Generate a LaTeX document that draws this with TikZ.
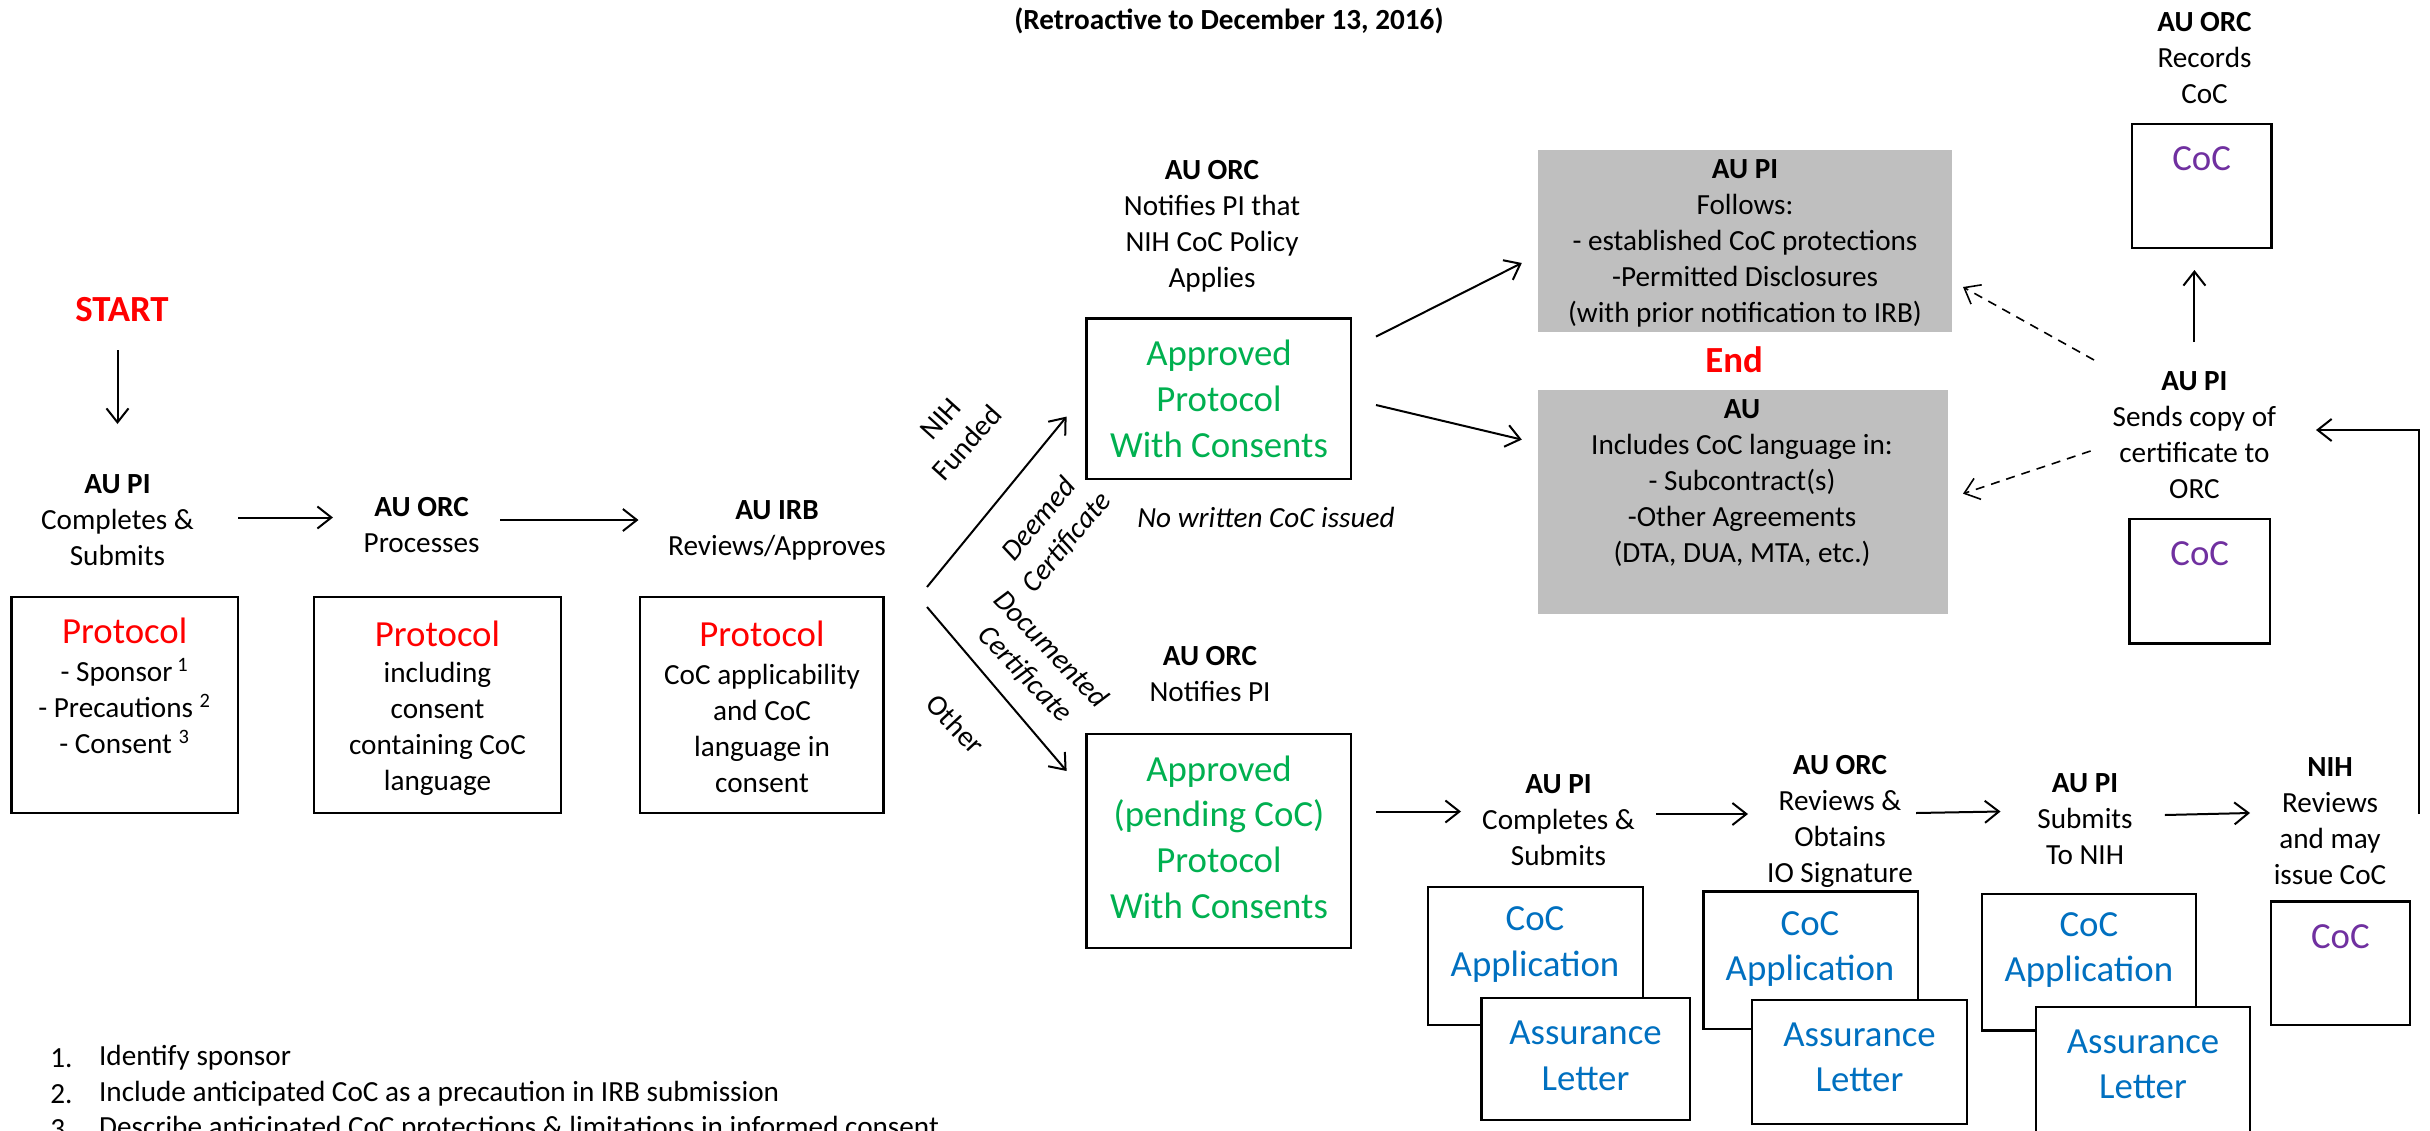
\documentclass[tikz,border=0pt]{standalone}
\usepackage{fontspec}
\setmainfont{Carlito}
\usetikzlibrary{arrows.meta,fit}
\definecolor{myred}{HTML}{FF0000}
\definecolor{mygreen}{HTML}{00B050}
\definecolor{myblue}{HTML}{0070C0}
\definecolor{mypurple}{HTML}{7030A0}
\definecolor{mygray}{HTML}{BFBFBF}
\tikzset{
  lbl/.style={align=center, inner sep=0pt, font=\fontsize{14.6}{18}\selectfont},
  big/.style={align=center, inner sep=0pt, font=\fontsize{18.4}{22.8}\selectfont},
  boxr/.style={draw, line width=1.15pt, fill=white, inner sep=0pt},
  grayr/.style={fill=mygray, inner sep=0pt},
  arr/.style={line width=1pt, -{Straight Barb[length=7pt,width=11pt]}},
  darr/.style={line width=0.8pt, dash pattern=on 4.5pt off 3.5pt, -{Straight Barb[length=7pt,width=11pt]}},
}
\begin{document}
\begin{tikzpicture}[x=0.5pt,y=-0.5pt]
\useasboundingbox[fill=white] (0,0) rectangle (2430,1130);

% title
\node[lbl, font=\fontsize{14.6}{18}\selectfont\bfseries] (title) at (1229,21) {(Retroactive to December 13, 2016)};

% left column
\node[big, font=\fontsize{18.4}{22.8}\selectfont\bfseries, text=myred] (start) at (122,310) {START};
\node[lbl] (pi1) at (117.5,520) {\textbf{AU PI}\\Completes \&\\Submits};
\coordinate (s0) at (117.5,350);
\coordinate (s1) at (117.5,424);
\draw[arr] (s0) -- (s1);

\node[boxr, fit={(11.5,597) (238,813)}] (b1) {};
\node[big, text=myred] (b1t) at (124.7,631) {Protocol};
\node[lbl] (b1b) at (124.7,706) {- Sponsor\,\textsuperscript{1}\\- Precautions \textsuperscript{2}\\- Consent \textsuperscript{3}};

\coordinate (a1s) at (238,517.5);
\coordinate (a1e) at (333,517.5);
\draw[arr] (a1s) -- (a1e);

\node[lbl] (orc1) at (421.6,525) {\textbf{AU ORC}\\Processes};
\node[boxr, fit={(314,597) (561,813)}] (b2) {};
\node[big, text=myred] (b2t) at (437.5,634) {Protocol};
\node[lbl] (b2b) at (437.5,728.7) {including\\consent\\containing CoC\\language};

\coordinate (a2s) at (500,520);
\coordinate (a2e) at (638.5,520);
\draw[arr] (a2s) -- (a2e);

\node[lbl] (irb) at (777,530.5) {\textbf{AU IRB}\\Reviews/Approves};
\node[boxr, fit={(640,597) (883.6,813)}] (b3) {};
\node[big, text=myred] (b3t) at (762,634) {Protocol};
\node[lbl] (b3b) at (762,728.7) {CoC applicability\\and CoC\\language in\\consent};

% branches
\coordinate (d1s) at (927,587);
\coordinate (d1e) at (1066.6,416.6);
\coordinate (d2s) at (927,607);
\coordinate (d2e) at (1066.6,771);
\draw[arr] (d1s) -- (d1e);
\draw[arr] (d2s) -- (d2e);
\node[lbl, rotate=48] (nihf) at (953.8,431) {NIH\\Funded};
\node[lbl, rotate=50, font=\fontsize{14.6}{18}\selectfont\itshape] (deem) at (1053,531) {Deemed\\Certificate};
\node[lbl, rotate=-46, font=\fontsize{14.6}{18}\selectfont\itshape] (docu) at (1037.8,662) {Documented\\Certificate};
\node[lbl, rotate=-47] (other) at (955.7,724.3) {Other};

% upper branch
\node[lbl] (orcA) at (1212,226) {\textbf{AU ORC}\\Notifies PI that\\NIH CoC Policy\\Applies};
\node[boxr, fit={(1086.5,318.5) (1351,479)}] (bA) {};
\node[big, text=mygreen] (bAt) at (1219,398.8) {Approved\\Protocol\\With Consents};
\node[lbl, font=\fontsize{14.6}{18}\selectfont\itshape] (nowr) at (1266,517.5) {No written CoC issued};

\coordinate (u1s) at (1376,336.6);
\coordinate (u1e) at (1521.8,263);
\coordinate (u2s) at (1376,405);
\coordinate (u2e) at (1521.8,439.6);
\draw[arr] (u1s) -- (u1e);
\draw[arr] (u2s) -- (u2e);

\node[grayr, fit={(1538,150) (1952,332)}] (g1) {};
\node[lbl] (g1t) at (1745,243) {\textbf{AU PI}\\Follows:\\- established CoC protections\\-Permitted Disclosures\\(with prior notification to IRB)};
\node[big, font=\fontsize{18.4}{22.8}\selectfont\bfseries, text=myred] (endt) at (1734,360) {End};
\node[grayr, fit={(1538,390) (1948,614)}] (g2) {};
\node[lbl] (g2t) at (1742,483) {\textbf{AU}\\Includes CoC language in:\\- Subcontract(s)\\-Other Agreements\\(DTA, DUA, MTA, etc.)};

% lower branch
\node[lbl] (orcB) at (1210,674) {\textbf{AU ORC}\\Notifies PI};
\node[boxr, fit={(1086.5,734) (1351,948)}] (bB) {};
\node[big, text=mygreen] (bBt) at (1219,837) {Approved\\(pending CoC)\\Protocol\\With Consents};

\coordinate (l1s) at (1376,811.5);
\coordinate (l1e) at (1461,811.5);
\draw[arr] (l1s) -- (l1e);

\node[lbl] (piB) at (1558.5,820) {\textbf{AU PI}\\Completes \&\\Submits};
\node[boxr, fit={(1428,887) (1643,1025)}] (app1) {};
\node[big, text=myblue] (app1t) at (1535,944.5) {CoC\\Application};
\node[boxr, fit={(1481.4,998) (1689.7,1120)}] (ass1) {};
\node[big, text=myblue] (ass1t) at (1585.5,1056) {Assurance\\Letter};

\coordinate (l2s) at (1656,814);
\coordinate (l2e) at (1748,814);
\draw[arr] (l2s) -- (l2e);

\node[lbl] (orcC) at (1840,821) {\textbf{AU ORC}\\Reviews \&\\Obtains\\IO Signature};
\node[boxr, fit={(1703.4,891.5) (1918,1029)}] (app2) {};
\node[big, text=myblue] (app2t) at (1810,949) {CoC\\Application};
\node[boxr, fit={(1752,1000) (1967,1124)}] (ass2) {};
\node[big, text=myblue] (ass2t) at (1859.5,1057.5) {Assurance\\Letter};

\coordinate (l3s) at (1916,813);
\coordinate (l3e) at (2000.5,811.5);
\draw[arr] (l3s) -- (l3e);

\node[lbl] (piC) at (2085,819) {\textbf{AU PI}\\Submits\\To NIH};
\node[boxr, fit={(1981.8,894) (2195.8,1030.6)}] (app3) {};
\node[big, text=myblue] (app3t) at (2088.8,950) {CoC\\Application};
\node[boxr, fit={(2035.8,1007) (2250,1140)}] (ass3) {};
\node[big, text=myblue] (ass3t) at (2143,1064.5) {Assurance\\Letter};

\coordinate (l4s) at (2164.8,815);
\coordinate (l4e) at (2250,813);
\draw[arr] (l4s) -- (l4e);

\node[lbl] (nih) at (2330,820.8) {\textbf{NIH}\\Reviews\\and may\\issue CoC};
\node[boxr, fit={(2270.8,901.6) (2410,1024.8)}] (cocN) {};
\node[big, text=mypurple] (cocNt) at (2340.4,937) {CoC};

% return path
\coordinate (r0) at (2419,814);
\coordinate (r1) at (2316,430);
\draw[arr] (r0) |- (r1);

\node[lbl] (piR) at (2194.4,434.75) {\textbf{AU PI}\\Sends copy of\\certificate to\\ORC};
\node[boxr, fit={(2129.5,519) (2270,643.6)}] (cocR) {};
\node[big, text=mypurple] (cocRt) at (2199.75,553.5) {CoC};

\coordinate (up0) at (2194.4,342);
\coordinate (up1) at (2194.4,270);
\draw[arr] (up0) -- (up1);

\node[lbl] (orcR) at (2204.5,58) {\textbf{AU ORC}\\Records\\CoC};
\node[boxr, fit={(2131.7,124) (2271.5,248)}] (cocT) {};
\node[big, text=mypurple] (cocTt) at (2201.6,158.5) {CoC};

\coordinate (da0) at (2094,360);
\coordinate (da1) at (1963,287);
\coordinate (db0) at (2090.6,451);
\coordinate (db1) at (1963,493.7);
\draw[darr] (da0) -- (da1);
\draw[darr] (db0) -- (db1);

% footnotes
\node[lbl, anchor=west] (fn1n) at (50,1058) {1.};
\node[lbl, anchor=west] (fn1) at (98.7,1058) {Identify sponsor};
\node[lbl, anchor=west] (fn2n) at (50,1094) {2.};
\node[lbl, anchor=west] (fn2) at (98.7,1094) {Include anticipated CoC as a precaution in IRB submission};
\node[lbl, anchor=west] (fn3n) at (50,1129) {3.};
\node[lbl, anchor=west] (fn3) at (98.7,1129) {Describe anticipated CoC protections \& limitations in informed consent};
\end{tikzpicture}
\end{document}
